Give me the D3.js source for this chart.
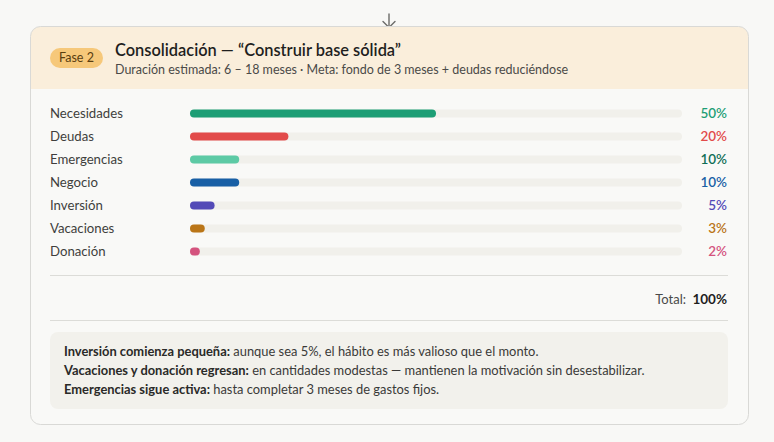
<!DOCTYPE html>
<html>
<head>
<meta charset="utf-8">
<script src="https://cdn.jsdelivr.net/npm/d3@7"></script>
<style>
  html, body { margin: 0; padding: 0; background: #f8f8f6; }
  svg { display: block; font-family: Lato, "Noto Sans", sans-serif; }
</style>
</head>
<body>
<div id="chart"></div>
<script>
"use strict";

// data
var categories = ["Necesidades", "Deudas", "Emergencias", "Negocio", "Inversión", "Vacaciones", "Donación"];
var percents = [50, 20, 10, 10, 5, 3, 2];
var barColors = ["#1d9e75", "#e24b4a", "#5dcaa5", "#185fa5", "#534ab7", "#ba7517", "#d4537e"];
var textColors = ["#1d9e75", "#e24b4a", "#0f6e56", "#185fa5", "#534ab7", "#ba7517", "#d4537e"];
var phaseLabel = "Fase 2";
var title = "Consolidación — \u201cConstruir base sólida\u201d";
var subtitle = "Duración estimada: 6 – 18 meses · Meta: fondo de 3 meses + deudas reduciéndose";
var notes = [
    ["Inversión comienza pequeña:", " aunque sea 5%, el hábito es más valioso que el monto."],
    ["Vacaciones y donación regresan:", " en cantidades modestas — mantienen la motivación sin desestabilizar."],
    ["Emergencias sigue activa:", " hasta completar 3 meses de gastos fijos."]
];

var W = 774, H = 442;
var card = { x: 30.5, y: 26.5, w: 718, h: 398 };

var svg = d3.select("#chart").append("svg")
    .attr("width", W)
    .attr("height", H);

// arrow on top
var arrow = svg.append("g").attr("stroke", "#6b6b69").attr("stroke-width", 1.4)
    .attr("fill", "none").attr("stroke-linecap", "round").attr("stroke-linejoin", "round");
arrow.append("line").attr("x1", 389).attr("y1", 14).attr("x2", 389).attr("y2", 27.5);
arrow.append("path").attr("d", "M383,21.5 L389,27.5 L395,21.5");

// card
svg.append("clipPath").attr("id", "cardclip")
    .append("rect").attr("x", card.x).attr("y", card.y)
    .attr("width", card.w).attr("height", card.h).attr("rx", 10);

svg.append("rect")
    .attr("x", card.x).attr("y", card.y)
    .attr("width", card.w).attr("height", card.h)
    .attr("rx", 10)
    .attr("fill", "#f9f9f7");

svg.append("rect")
    .attr("clip-path", "url(#cardclip)")
    .attr("x", card.x).attr("y", card.y)
    .attr("width", card.w).attr("height", 62.5)
    .attr("fill", "#faeedb");

svg.append("rect")
    .attr("x", card.x).attr("y", card.y)
    .attr("width", card.w).attr("height", card.h)
    .attr("rx", 10)
    .attr("fill", "none")
    .attr("stroke", "#d9d9d6");

// header
svg.append("rect")
    .attr("x", 50).attr("y", 48).attr("width", 53).attr("height", 20).attr("rx", 10)
    .attr("fill", "#f6c87a");
svg.append("text")
    .attr("x", 76.5).attr("y", 62)
    .attr("text-anchor", "middle")
    .attr("font-size", 12.5)
    .attr("fill", "#5a3e10")
    .text(phaseLabel);

svg.append("text")
    .attr("x", 115).attr("y", 56)
    .attr("font-size", 16.4).attr("font-weight", 600)
    .attr("fill", "#1f1f1e")
    .text(title);
svg.append("text")
    .attr("x", 115).attr("y", 74)
    .attr("font-size", 12.5)
    .attr("fill", "#4a4a48")
    .text(subtitle);

// rows
var x = d3.scaleLinear().domain([0, 100]).range([190, 682]);
var y = d3.scaleBand().domain(categories).range([102, 263]).paddingInner(0);

var rows = svg.append("g").selectAll("g")
    .data(categories)
    .join("g")
    .attr("transform", function (d) { return "translate(0," + (y(d) + y.bandwidth() / 2) + ")"; });

rows.append("text")
    .attr("x", 50).attr("y", 4.5)
    .attr("font-size", 13.2)
    .attr("fill", "#3f3f3d")
    .text(function (d) { return d; });

rows.append("rect")
    .attr("x", x(0)).attr("y", -4)
    .attr("width", x(100) - x(0)).attr("height", 8).attr("rx", 4)
    .attr("fill", "#f1f0eb");

rows.append("rect")
    .attr("x", x(0)).attr("y", -4)
    .attr("width", function (d, i) { return x(percents[i]) - x(0); })
    .attr("height", 8).attr("rx", 4)
    .attr("fill", function (d, i) { return barColors[i]; });

rows.append("text")
    .attr("x", 727).attr("y", 4.5)
    .attr("text-anchor", "end")
    .attr("font-size", 13.5).attr("font-weight", 600)
    .attr("fill", function (d, i) { return textColors[i]; })
    .text(function (d, i) { return percents[i] + "%"; });

// total
svg.append("line").attr("x1", 50).attr("x2", 728).attr("y1", 275.5).attr("y2", 275.5)
    .attr("stroke", "#dcdcd8");
svg.append("text")
    .attr("x", 686).attr("y", 304)
    .attr("text-anchor", "end")
    .attr("font-size", 13).attr("fill", "#4a4a48")
    .text("Total:");
svg.append("text")
    .attr("x", 727).attr("y", 304)
    .attr("text-anchor", "end")
    .attr("font-size", 13.5).attr("font-weight", 700).attr("fill", "#1f1f1e")
    .text(d3.sum(percents) + "%");
svg.append("line").attr("x1", 50).attr("x2", 728).attr("y1", 320.5).attr("y2", 320.5)
    .attr("stroke", "#dcdcd8");

// notes
svg.append("rect")
    .attr("x", 50).attr("y", 332).attr("width", 678).attr("height", 77).attr("rx", 8)
    .attr("fill", "#f2f1ec");

var noteText = svg.append("g").selectAll("text")
    .data(notes)
    .join("text")
    .attr("x", 64)
    .attr("y", function (d, i) { return 356 + i * 19; })
    .attr("font-size", 12.9)
    .attr("fill", "#3a3a38");
noteText.append("tspan").attr("font-weight", 700).attr("fill", "#2a2a28").text(function (d) { return d[0]; });
noteText.append("tspan").text(function (d) { return d[1]; });
</script>
</body>
</html>
